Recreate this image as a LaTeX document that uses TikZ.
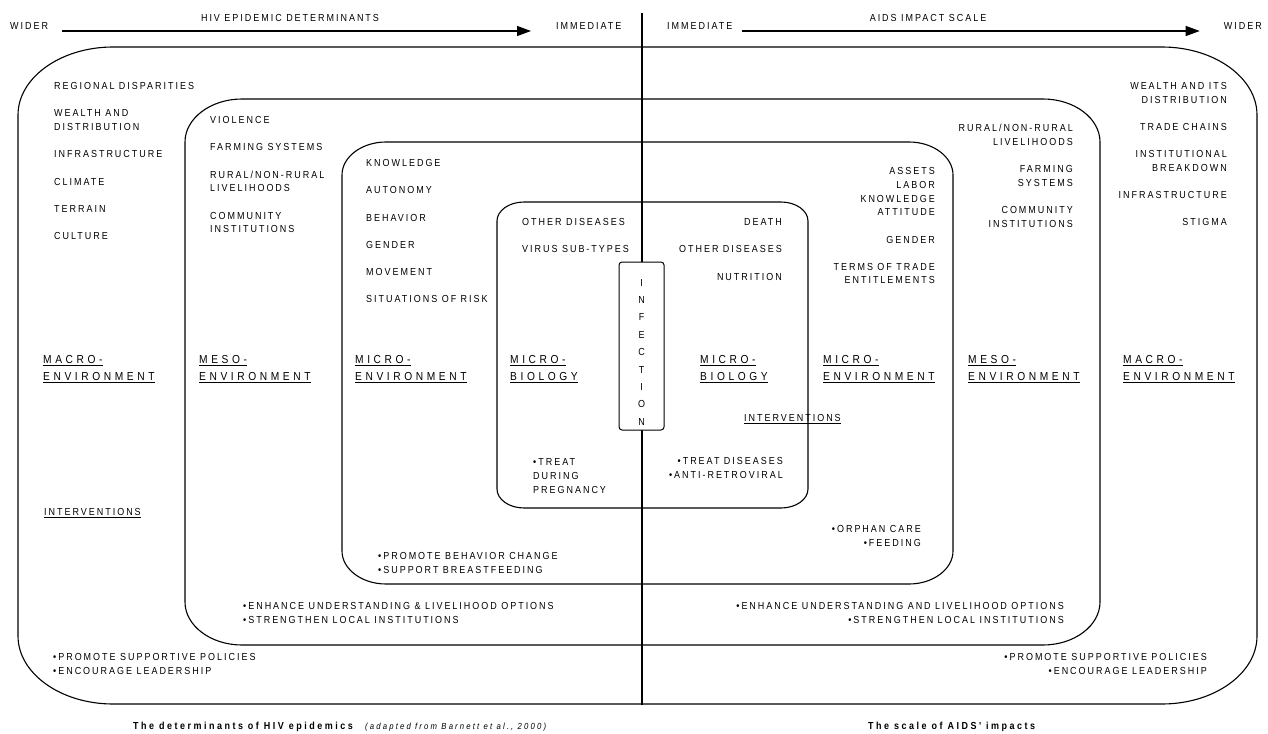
\documentclass[tikz,border=0pt]{standalone}
\usepackage{fontspec}
\setmainfont{Liberation Sans}[LetterSpace=19.5, FakeStretch=0.88]
\newfontfamily\widefamily{Liberation Sans}[LetterSpace=31, FakeStretch=0.88]
\newfontfamily\capfamily{Liberation Sans}[LetterSpace=24.5, FakeStretch=0.88]
\usetikzlibrary{arrows.meta,positioning,calc}

\newcommand\itmfont{\fontsize{10.2}{13.7}\selectfont}
\newcommand\envfont{\widefamily\fontsize{11.6}{17}\selectfont}

\tikzset{
  frame/.style    = {line width=1.1pt},
  txt/.style      = {inner sep=0pt, font=\itmfont},
  ltxt/.style     = {txt, align=left, anchor=north west},
  rtxt/.style     = {txt, align=right, anchor=north east},
  envlabel/.style = {inner sep=0pt, align=left, anchor=north west, font=\envfont},
  capbold/.style  = {inner sep=0pt, anchor=west, font=\capfamily\fontsize{10.2}{12}\selectfont\bfseries},
  sig/.style      = {-{Triangle[length=14pt,width=10pt]}, line width=1.2pt},
}

% frame with elliptic corners: x1,y1,x2,y2,rx,ry
\newcommand\envbox[6]{%
  \draw[frame] (#1,#2+#6) .. controls (#1,#2+0.45*#6) and (#1+0.45*#5,#2) .. (#1+#5,#2)
    -- (#3-#5,#2) .. controls (#3-0.45*#5,#2) and (#3,#2+0.45*#6) .. (#3,#2+#6)
    -- (#3,#4-#6) .. controls (#3,#4-0.45*#6) and (#3-0.45*#5,#4) .. (#3-#5,#4)
    -- (#1+#5,#4) .. controls (#1+0.45*#5,#4) and (#1,#4-0.45*#6) .. (#1,#4-#6) -- cycle;}

\begin{document}
\begin{tikzpicture}[x=1pt, y=-1pt]
\useasboundingbox (0,0) rectangle (1268,733);
% nested environments
\envbox{18}{47}{1257}{704}{95}{68}
\envbox{185}{99}{1100}{645}{57}{43}
\envbox{342}{142}{953}{584}{44}{33}
\envbox{497}{202}{808}{508}{27}{19}
\coordinate (divtop) at (642,13);
\coordinate (divbot) at (642,705);
\draw[frame] (divtop) -- (divbot);
\node[draw, line width=1pt, rounded corners=3pt, fill=white, inner sep=0pt,
  minimum width=45pt, minimum height=168pt] (infect) at (641.5,346) {};
\node[txt, align=center, anchor=north, font=\fontsize{10.2}{17.4}\selectfont,
  below=17.3pt of infect.north] (infword) {I\\N\\F\\E\\C\\T\\I\\O\\N};

% scales
\node[txt, anchor=west] (wl) at (10,26) {WIDER};
\node[txt, anchor=west] (il) at (556,26) {IMMEDIATE};
\node[txt] (hivt) at (290,18) {HIV EPIDEMIC DETERMINANTS};
\draw[sig] ($(wl.east)+(14,5)$) -- ($(il.west)+(-25,5)$);
\node[txt, anchor=west] (ir) at (667,26) {IMMEDIATE};
\node[txt, anchor=east] (wr) at (1262,26) {WIDER};
\node[txt] (aidst) at (928,18) {AIDS IMPACT SCALE};
\draw[sig] ($(ir.east)+(9,5)$) -- ($(wr.west)+(-24,5)$);

% determinants
\node[ltxt] (macrol) at (54,82.4) {REGIONAL DISPARITIES\\[13.5pt] WEALTH AND\\ DISTRIBUTION\\[13.5pt]
  INFRASTRUCTURE\\[13.5pt] CLIMATE\\[13.5pt] TERRAIN\\[13.5pt] CULTURE};
\node[ltxt] (mesol) at (210,116.4) {VIOLENCE\\[13.5pt] FARMING SYSTEMS\\[13.5pt]
  RURAL/NON-RURAL\\ LIVELIHOODS\\[13.5pt] COMMUNITY\\ INSTITUTIONS};
\node[ltxt] (microl) at (366,159.4) {KNOWLEDGE\\[13.5pt] AUTONOMY\\[13.5pt] BEHAVIOR\\[13.5pt]
  GENDER\\[13.5pt] MOVEMENT\\[13.5pt] SITUATIONS OF RISK};
\node[ltxt] (biol) at (522,218.4) {OTHER DISEASES\\[13.5pt] VIRUS SUB-TYPES};

% impacts
\node[rtxt] (bior) at (782,218.4) {DEATH\\[13.5pt] OTHER DISEASES\\[13.5pt] NUTRITION};
\node[rtxt] (micror) at (935,167.4) {ASSETS\\ LABOR\\ KNOWLEDGE\\ ATTITUDE\\[13.5pt]
  GENDER\\[13.5pt] TERMS OF TRADE\\ ENTITLEMENTS};
\node[rtxt] (mesor) at (1073,124.4) {RURAL/NON-RURAL\\ LIVELIHOODS\\[13.5pt] FARMING\\ SYSTEMS\\[13.5pt]
  COMMUNITY\\ INSTITUTIONS};
\node[rtxt] (macror) at (1227,82.4) {WEALTH AND ITS\\ DISTRIBUTION\\[13.5pt] TRADE CHAINS\\[13.5pt]
  INSTITUTIONAL\\ BREAKDOWN\\[13.5pt] INFRASTRUCTURE\\[13.5pt] STIGMA};

% level labels
\node[envlabel] (macrolab) at (43,355.5) {\underline{MACRO-}\\\underline{ENVIRONMENT}};
\node[envlabel] (mesolab) at (199,355.5) {\underline{MESO-}\\\underline{ENVIRONMENT}};
\node[envlabel] (microlab) at (355,355.5) {\underline{MICRO-}\\\underline{ENVIRONMENT}};
\node[envlabel] (biolab) at (510,355.5) {\underline{MICRO-}\\\underline{BIOLOGY}};
\node[envlabel] (biorlab) at (700,355.5) {\underline{MICRO-}\\\underline{BIOLOGY}};
\node[envlabel] (microrlab) at (823,355.5) {\underline{MICRO-}\\\underline{ENVIRONMENT}};
\node[envlabel] (mesorlab) at (968,355.5) {\underline{MESO-}\\\underline{ENVIRONMENT}};
\node[envlabel] (macrorlab) at (1123,355.5) {\underline{MACRO-}\\\underline{ENVIRONMENT}};

% interventions
\node[ltxt] (intl) at (44,508.4) {\underline{INTERVENTIONS}};
\node[ltxt] (intr) at (744,414.4) {\underline{INTERVENTIONS}};
\node[ltxt] (pregl) at (533,458.4) {\textbullet TREAT\\ DURING\\ PREGNANCY};
\node[ltxt] (behavl) at (378,552.4) {\textbullet PROMOTE BEHAVIOR CHANGE\\ \textbullet SUPPORT BREASTFEEDING};
\node[ltxt] (enhl) at (243,602.4) {\textbullet ENHANCE UNDERSTANDING \& LIVELIHOOD OPTIONS\\
  \textbullet STRENGTHEN LOCAL INSTITUTIONS};
\node[ltxt] (polil) at (53,653.4) {\textbullet PROMOTE SUPPORTIVE POLICIES\\ \textbullet ENCOURAGE LEADERSHIP};
\node[rtxt] (treatr) at (783,457.4) {\textbullet TREAT DISEASES\\ \textbullet ANTI-RETROVIRAL};
\node[rtxt] (orphr) at (921,525.4) {\textbullet ORPHAN CARE\\ \textbullet FEEDING};
\node[rtxt] (enhr) at (1064,602.4) {\textbullet ENHANCE UNDERSTANDING AND LIVELIHOOD OPTIONS\\
  \textbullet STRENGTHEN LOCAL INSTITUTIONS};
\node[rtxt] (polir) at (1207,653.4) {\textbullet PROMOTE SUPPORTIVE POLICIES\\ \textbullet ENCOURAGE LEADERSHIP};

% captions
\node[capbold] (capl) at (133,727) {The determinants of HIV epidemics};
\node[inner sep=0pt, anchor=base west, font=\capfamily\fontsize{8.8}{10}\selectfont\itshape]
  (capsrc) at ([xshift=12pt]capl.base east) {(adapted from Barnett et al., 2000)};
\node[capbold] (capr) at (868,727) {The scale of AIDS' impacts};
\end{tikzpicture}
\end{document}
